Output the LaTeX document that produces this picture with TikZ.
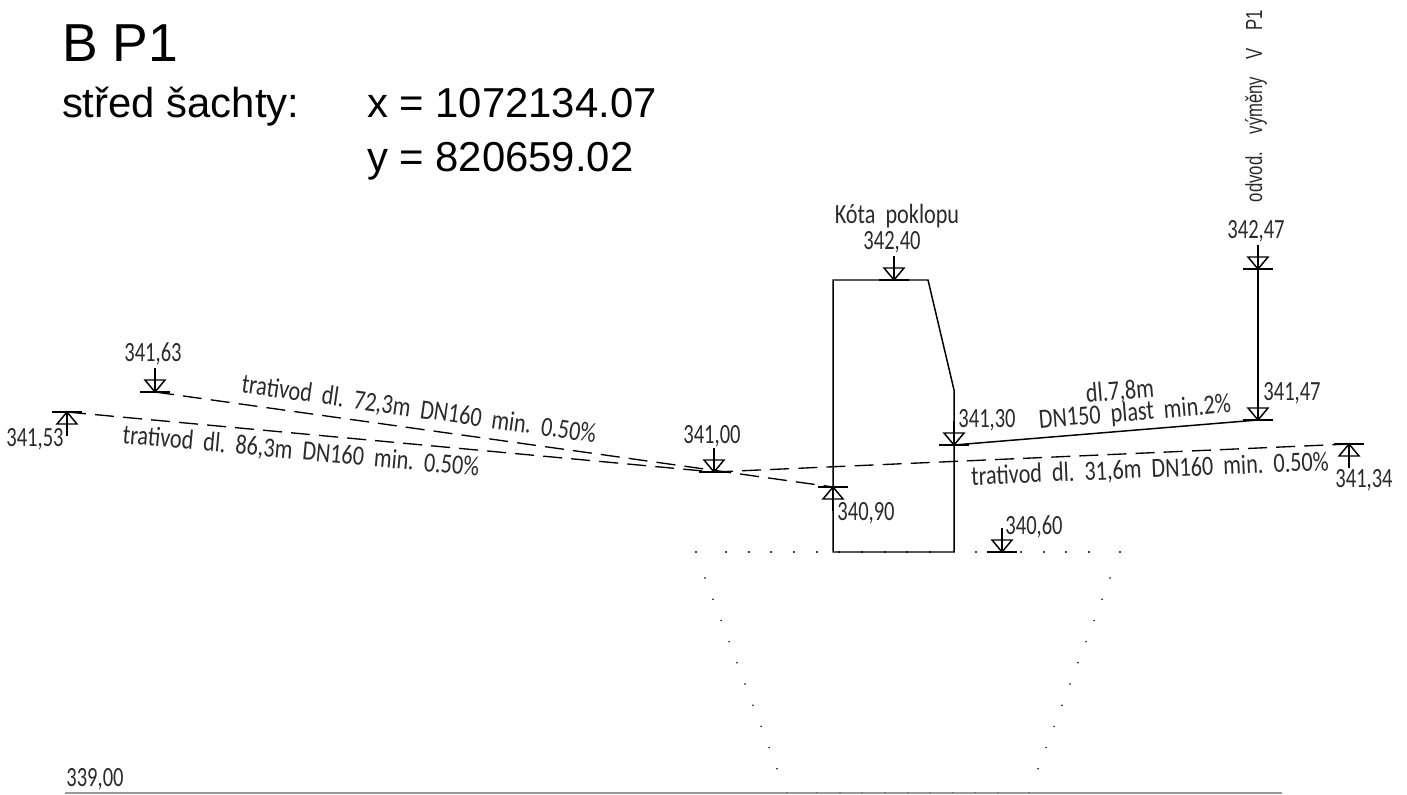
\documentclass[tikz,border=0pt]{standalone}
\usepackage{fontspec}
\setmainfont{Liberation Sans}
\newfontfamily\cadfont[FakeStretch=0.74]{Carlito}
\newfontfamily\cadwide[FakeStretch=0.8]{Carlito}
\newfontfamily\rotfont[FakeStretch=0.72]{Liberation Sans}
\usetikzlibrary{positioning}
\definecolor{cadgray}{HTML}{2A2A2A}

\begin{document}
\begin{tikzpicture}[
  x=0.01cm, y=-0.01cm,
  every node/.style={inner sep=0pt, outer sep=0pt},
  wall/.style={line width=0.42pt, black},
  pipeline/.style={line width=0.42pt, black},
  pipedash/.style={line width=0.38pt, black, dash pattern=on 5.4pt off 2.6pt},
  cadlabel/.style={font=\cadfont\fontsize{7.9pt}{9pt}\selectfont, text=cadgray, anchor=center},
  pipelabel/.style={font=\cadwide\fontsize{7.9pt}{9pt}\selectfont, text=cadgray, anchor=center},
  headtext/.style={font=\fontsize{11.9pt}{14pt}\selectfont, anchor=base west},
  lvldown/.pic={
    \draw[wall] (-15,0) -- (15,0);
    \draw[wall] (0,-24) -- (0,0);
    \draw[wall] (-10,-12) -- (10,-12) -- (0,0) -- cycle;
  },
  lvlup/.pic={
    \draw[wall] (-15,0) -- (15,0);
    \draw[wall] (0,24) -- (0,0);
    \draw[wall] (-10,12) -- (10,12) -- (0,0) -- cycle;
  },
]
\useasboundingbox (0,0) rectangle (1407,794);

% Heading
\node[headtext, font=\fontsize{15.2pt}{18pt}\selectfont] (title) at (62,62) {B P1};
\node[headtext] (stred) at (62,118) {střed šachty:};
\node[headtext] (xval) at (367,118) {x = 1072134.07};
\node[headtext] (yval) at (367,172) {y = 820659.02};
\node[font=\rotfont\fontsize{6.6pt}{8pt}\selectfont, text=cadgray, rotate=90] (odvod) at (1256,106) {odvod.\hspace{5pt}výměny\hspace{5pt}V\hspace{5pt}P1};

% Levels
\coordinate (k63) at (155,392);
\coordinate (k53) at (67,412);
\coordinate (k00) at (714,472);
\coordinate (k90) at (833,487);
\coordinate (k30) at (954,445);
\coordinate (k60) at (1002,552);
\coordinate (k247) at (1258,269);
\coordinate (k147) at (1258,420);
\coordinate (k34) at (1349,444);
\coordinate (k40) at (894,280);

% Shaft
\coordinate (sa) at (833,552);
\coordinate (sb) at (833,280);
\coordinate (sc) at (928,280);
\coordinate (sd) at (954,390);
\coordinate (se) at (954,552);
\draw[wall] (sa) -- (sb) -- (sc) -- (sd) -- (se) -- cycle;

% Pipes
\draw[pipedash] (k63) -- (k90);
\draw[pipedash] (k53) -- (k00);
\draw[pipedash] (k00) -- (k34);
\draw[pipeline] (k30) -- (k147);
\draw[pipeline] (k247) -- (k147);

\pic at (k63) {lvldown};
\pic at (k53) {lvlup};
\pic at (k00) {lvldown};
\pic at (k90) {lvlup};
\pic at (k30) {lvldown};
\pic at (k60) {lvldown};
\pic at (k247) {lvldown};
\pic at (k147) {lvldown};
\pic at (k34) {lvlup};
\pic at (k40) {lvldown};

\node[cadlabel] (t63) at (153,354) {341,63};
\node[cadlabel] (t53) at (35,439) {341,53};
\node[cadlabel] (t00) at (712,436) {341,00};
\node[cadlabel] (t90) at (866,513) {340,90};
\node[cadlabel] (t30) at (987,420) {341,30};
\node[cadlabel] (t60) at (1034,527) {340,60};
\node[cadlabel] (t247) at (1256,231) {342,47};
\node[cadlabel] (t147) at (1292,393) {341,47};
\node[cadlabel] (t34) at (1364,480) {341,34};
\node[cadlabel] (t40) at (892,242) {342,40};
\node[pipelabel] (tkota) at (897,216) {Kóta\ \ poklopu};
\node[cadlabel] (t339) at (95,779) {339,00};

% Pipe labels
\node[pipelabel, rotate=-8.1] (p72) at (419,410) {trativod\ \ dl.\ \ 72,3m\ \ DN160\ \ min.\ \ 0.50\%};
\node[pipelabel, rotate=-5.3] (p86) at (301,452) {trativod\ \ dl.\ \ 86,3m\ \ DN160\ \ min.\ \ 0.50\%};
\node[pipelabel, rotate=2.4] (p31) at (1150,470) {trativod\ \ dl.\ \ 31,6m\ \ DN160\ \ min.\ \ 0.50\%};
\node[pipelabel, rotate=4.7] (p78) at (1120,392) {dl.7,8m};
\node[pipelabel, rotate=4.7] (p150) at (1135,413) {DN150\ \ plast\ \ min.2\%};

% Ground profile
\coordinate (ga) at (65,793);
\coordinate (gb) at (1282,793);
\draw[line width=0.35pt, black!40] (ga) -- (gb);

% Excavation dots
\foreach \px in {696,726,749,771,794,817,839,862,885,907,930,976,998,1021,1044,1066,1089,1120}
  \fill[black] (\px,552) circle (1.1);
\foreach \k in {0,...,9} {
  \fill[black] ({705+8*\k},{578+21.2*\k}) circle (0.85);
  \fill[black] ({1110-8*\k},{578+21.2*\k}) circle (0.85);
}
\foreach \px in {787,817,840,862,885,908,930,953,975,998,1029}
  \fill[black!70] (\px,792.5) circle (0.7);
\end{tikzpicture}
\end{document}
